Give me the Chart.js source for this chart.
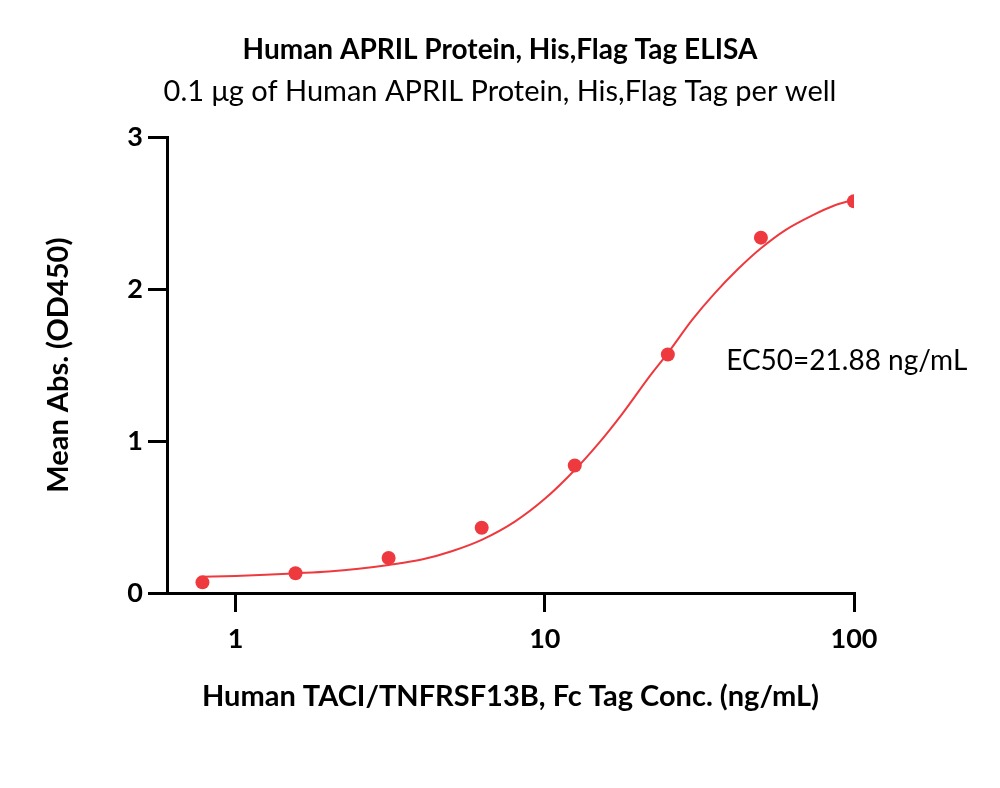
<!DOCTYPE html>
<html>
<head>
<meta charset="utf-8">
<script src="https://cdn.jsdelivr.net/npm/chart.js@4/dist/chart.umd.min.js"></script>
<style>
html,body{margin:0;padding:0;background:#fff;}
</style>
</head>
<body>
<canvas id="elisaChart" width="1000" height="788"></canvas>
<script>

// ================= DATA =================

const concentrations = [0.78125, 1.5625, 3.125, 6.25, 12.5, 25, 50, 100];
const meanAbs = [0.07, 0.13, 0.23, 0.43, 0.84, 1.57, 2.34, 2.58];

// fitted curve
const fitConc = [0.78125, 1, 1.25, 1.5625, 2, 2.5, 3.125, 4, 5, 6.25, 8, 10, 12.5, 15, 17.8, 21.88, 25, 30, 35.3, 42, 50, 60, 73.9, 86, 100];
const fitAbs = [0.107, 0.112, 0.12, 0.13, 0.142, 0.16, 0.185, 0.22, 0.275, 0.35, 0.47, 0.62, 0.81, 0.99, 1.18, 1.43, 1.58, 1.8, 1.97, 2.13, 2.27, 2.39, 2.49, 2.55, 2.59];

const xTicks = [1, 10, 100];
const yTicks = [0, 1, 2, 3];

const chartTitle = "Human APRIL Protein, His,Flag Tag ELISA";
const chartSubtitle = "0.1 μg of Human APRIL Protein, His,Flag Tag per well";
const xTitle = "Human TACI/TNFRSF13B, Fc Tag Conc. (ng/mL)";
const yTitle = "Mean Abs. (OD450)";
const ec50Label = "EC50=21.88 ng/mL";

const red = "#ee3a3e";

// ================= EC50 TEXT =================

const ec50Plugin = {
  id: "ec50Text",
  afterDatasetsDraw(chart) {
    const {ctx, scales} = chart;
    ctx.save();
    ctx.font = "28px Lato";
    ctx.fillStyle = "#000";
    ctx.textAlign = "left";
    ctx.textBaseline = "middle";
    ctx.fillText(ec50Label, scales.x.getPixelForValue(38.6), scales.y.getPixelForValue(1.53));
    ctx.restore();
  }
};

// ================= CHART =================

Chart.defaults.font.family = "Lato";
Chart.defaults.color = "#000";

const axisGrid = {drawOnChartArea: false, drawTicks: true, tickLength: 19, tickWidth: 3, tickColor: "#000", lineWidth: 3, color: "#000"};

new Chart(document.getElementById("elisaChart"), {
  data: {
    datasets: [
      {
        type: "scatter",
        data: concentrations.map((c, i) => ({x: c, y: meanAbs[i]})),
        backgroundColor: red,
        borderWidth: 0,
        pointRadius: 7,
        order: 1
      },
      {
        type: "line",
        data: fitConc.map((c, i) => ({x: c, y: fitAbs[i]})),
        borderColor: red,
        borderWidth: 2,
        pointRadius: 0,
        fill: false,
        cubicInterpolationMode: "monotone",
        order: 2
      }
    ]
  },
  options: {
    responsive: false,
    animation: false,
    layout: {padding: 0},
    plugins: {
      legend: {display: false},
      tooltip: {enabled: false},
      title: {
        display: true,
        text: chartTitle,
        font: {size: 28, weight: "bold"},
        padding: {top: 33, bottom: 8}
      },
      subtitle: {
        display: true,
        text: chartSubtitle,
        font: {size: 29},
        padding: {top: 0, bottom: 28}
      }
    },
    scales: {
      x: {
        type: "logarithmic",
        min: 0.625,
        max: 100,
        afterBuildTicks: s => { s.ticks = xTicks.map(v => ({value: v})); },
        afterFit: s => { s.height = 195; s.paddingLeft = 0; s.paddingRight = 0; },
        ticks: {
          font: {size: 27, weight: "bold"},
          padding: 11,
          maxRotation: 0,
          callback: v => String(v)
        },
        grid: axisGrid,
        border: {display: true, width: 3, color: "#000"},
        title: {
          display: true,
          text: xTitle,
          font: {size: 29, weight: "bold"},
          padding: {top: 0, bottom: 74}
        }
      },
      y: {
        type: "linear",
        min: 0,
        max: 3,
        afterBuildTicks: s => { s.ticks = yTicks.map(v => ({value: v})); },
        afterFit: s => { s.width = 167; s.paddingTop = 0; s.paddingBottom = 0; },
        ticks: {
          font: {size: 27, weight: "bold"},
          padding: 5
        },
        grid: axisGrid,
        border: {display: true, width: 3, color: "#000"},
        title: {
          display: true,
          text: yTitle,
          font: {size: 29, weight: "bold"},
          padding: {top: 41, bottom: 0}
        }
      },
      // empty space on the right of the plot
      yRight: {
        type: "linear",
        position: "right",
        display: true,
        ticks: {display: false},
        grid: {display: false},
        border: {display: false},
        afterFit: s => { s.width = 146; s.paddingTop = 0; s.paddingBottom = 0; }
      }
    }
  },
  plugins: [ec50Plugin]
});

</script>
</body>
</html>
